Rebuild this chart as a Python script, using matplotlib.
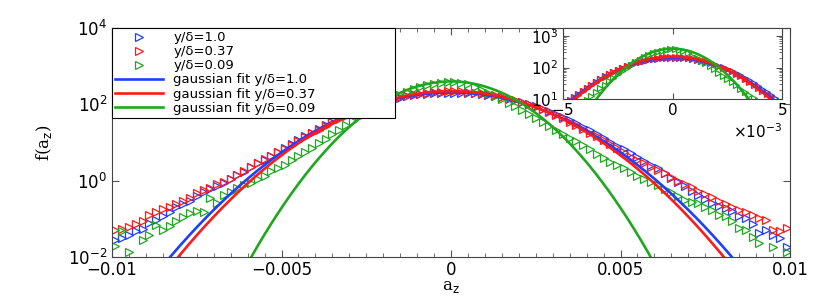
import numpy as np
import matplotlib
matplotlib.use("Agg")
import matplotlib.pyplot as plt
from matplotlib.ticker import MultipleLocator, NullLocator, FixedLocator, FixedFormatter, LogLocator

plt.rcParams["font.family"] = ["DejaVu Sans"]
plt.rcParams["mathtext.fontset"] = "dejavusans"

# bin centres of the pdf (units of a_z)
bins = np.round(np.arange(-9.9, 10.0, 0.2), 1) * 1e-3

# log10 f(a_z), one value per bin (nan = empty bin)
logf_10 = [
    -1.55, -1.50, -1.42, -1.33, -1.27, -1.12, -1.02, -0.93, -0.82, -0.70,
    -0.60, -0.52, -0.40, -0.30, -0.22, -0.13, -0.05, 0.04, 0.14, 0.24,
    0.35, 0.45, 0.55, 0.65, 0.75, 0.85, 0.96, 1.06, 1.16, 1.26,
    1.36, 1.46, 1.55, 1.64, 1.72, 1.80, 1.87, 1.93, 1.99, 2.04,
    2.09, 2.13, 2.17, 2.21, 2.24, 2.26, 2.28, 2.30, 2.31, 2.31,
    2.31, 2.31, 2.30, 2.29, 2.27, 2.25, 2.22, 2.19, 2.15, 2.11,
    2.06, 2.01, 1.95, 1.89, 1.82, 1.75, 1.67, 1.59, 1.50, 1.41,
    1.32, 1.22, 1.12, 1.02, 0.92, 0.82, 0.72, 0.62, 0.52, 0.42,
    0.32, 0.20, 0.08, -0.04, -0.15, -0.26, -0.38, -0.48, -0.58, -0.66,
    -0.72, -0.80, -0.92, -0.98, -1.13, -1.37, -1.30, -1.42, -1.50, -1.73,
]
logf_037 = [
    -1.29, -1.26, -1.22, -1.13, -1.05, -0.90, -0.82, -0.75, -0.68, -0.60,
    -0.53, -0.46, -0.32, -0.25, -0.19, -0.10, -0.03, 0.05, 0.15, 0.25,
    0.37, 0.47, 0.56, 0.65, 0.74, 0.84, 0.94, 1.04, 1.14, 1.24,
    1.34, 1.44, 1.53, 1.62, 1.70, 1.78, 1.86, 1.92, 1.98, 2.04,
    2.09, 2.14, 2.19, 2.22, 2.26, 2.28, 2.30, 2.32, 2.33, 2.34,
    2.34, 2.34, 2.33, 2.31, 2.29, 2.27, 2.24, 2.20, 2.16, 2.11,
    2.06, 2.00, 1.94, 1.88, 1.80, 1.73, 1.64, 1.55, 1.46, 1.36,
    1.26, 1.16, 1.06, 0.95, 0.85, 0.74, 0.63, 0.54, 0.46, 0.37,
    0.27, 0.20, 0.09, 0.00, -0.08, -0.16, -0.26, -0.36, -0.44, -0.53,
    -0.60, -0.68, -0.76, -0.83, -0.89, -0.97, -1.03, -1.30, -1.32, -1.24,
]
logf_009 = [
    -1.72, -1.33, -1.88, np.nan, -1.55, -1.42, -1.16, -1.28, -1.20, -1.05,
    -0.94, -0.85, -0.80, -0.83, -0.46, -0.59, -0.38, -0.30, -0.19, -0.12,
    -0.06, 0.05, 0.13, 0.25, 0.33, 0.42, 0.53, 0.64, 0.75, 0.86,
    0.98, 1.10, 1.22, 1.34, 1.45, 1.57, 1.68, 1.78, 1.88, 1.98,
    2.07, 2.16, 2.24, 2.32, 2.39, 2.45, 2.50, 2.54, 2.57, 2.59,
    2.59, 2.57, 2.52, 2.45, 2.38, 2.30, 2.22, 2.14, 2.04, 1.95,
    1.84, 1.74, 1.64, 1.53, 1.43, 1.33, 1.23, 1.13, 1.03, 0.93,
    0.82, 0.70, 0.60, 0.50, 0.40, 0.32, 0.22, 0.12, 0.04, -0.04,
    -0.12, -0.22, -0.29, -0.40, -0.50, -0.55, -0.58, -0.70, -0.78, -0.89,
    -0.93, -1.05, -1.24, -1.30, -1.47, -1.63, np.nan, -1.75, np.nan, -1.87,
]

labels = ["y/δ=1.0", "y/δ=0.37", "y/δ=0.09"]
colors = ["#1f3fff", "#ff1a1a", "#1fa81f"]
series = [logf_10, logf_037, logf_009]

# gaussian fit parameters (peak value, standard deviation)
fit_peak = [204.0, 219.0, 398.0]
fit_sigma = [0.00186, 0.00180, 0.00128]

x_ticks = [-0.01, -0.005, 0, 0.005, 0.01]
x_tick_labels = ["\u22120.01", "\u22120.005", "0", "0.005", "0.01"]

xfit = np.linspace(-0.01, 0.01, 801)


def draw(ax, ms, lw):
    handles = []
    for lab, c, s in zip(labels, colors, series):
        h, = ax.plot(bins, 10 ** np.array(s), ">", ms=ms, mfc="none", mec=c,
                     mew=0.9, color=c, label=lab)
        handles.append(h)
    for lab, c, a, sg in zip(labels, colors, fit_peak, fit_sigma):
        h, = ax.plot(xfit, a * np.exp(-xfit ** 2 / (2 * sg ** 2)), "-", color=c,
                     lw=lw, label="gaussian fit " + lab)
        handles.append(h)
    return handles


fig = plt.figure(figsize=(8.3, 3.0), dpi=100)
ax = fig.add_axes([112 / 830, 43 / 300, 678 / 830, 229 / 300])
handles = draw(ax, 5.5, 1.9)
ax.set_yscale("log")
ax.set_xlim(-0.01, 0.01)
ax.set_ylim(1e-2, 1e4)
ax.yaxis.set_major_locator(FixedLocator([1e-2, 1e0, 1e2, 1e4]))
ax.yaxis.set_minor_locator(NullLocator())
ax.xaxis.set_major_locator(FixedLocator(x_ticks))
ax.xaxis.set_major_formatter(FixedFormatter(x_tick_labels))
ax.xaxis.set_minor_locator(MultipleLocator(0.0005))
ax.tick_params(which="both", direction="in", top=True, right=True,
               labelsize=12, color="#555555")
ax.tick_params(which="major", length=5)
ax.tick_params(which="minor", length=3)
ax.tick_params(axis="x", pad=3)
for sp in ax.spines.values():
    sp.set_color("#444444")
ax.set_xlabel("a$_{\\rm z}$", family="serif", fontsize=12, labelpad=-1)
ax.set_ylabel("f(a$_{\\rm z}$)", family="serif", fontsize=12, labelpad=10)

leg = ax.legend(handles=handles, loc="upper left", bbox_to_anchor=(0, 1, 283 / 678, 0),
                mode="expand", borderaxespad=0, fontsize=9.5, numpoints=1,
                handlelength=3.6, handletextpad=0.8, labelspacing=0.08,
                borderpad=0.25, fancybox=False, framealpha=1)
leg.get_frame().set_edgecolor("black")
leg.get_frame().set_linewidth(0.8)

ins = fig.add_axes([563 / 830, 201 / 300, 219 / 830, 71 / 300])
draw(ins, 4.5, 1.9)
ins.set_yscale("log")
ins.set_xlim(-0.005, 0.005)
ins.set_ylim(10, 1800)
ins.set_xticks([-0.005, 0, 0.005])
ins.ticklabel_format(axis="x", style="sci", scilimits=(0, 0), useMathText=True)
ins.yaxis.set_major_locator(FixedLocator([1e1, 1e2, 1e3]))
ins.yaxis.set_minor_locator(LogLocator(subs=np.arange(2, 10)))
ins.yaxis.set_minor_formatter(plt.NullFormatter())
ins.tick_params(which="both", direction="in", top=True, right=True,
                labelsize=11, color="#555555")
ins.tick_params(which="major", length=4)
ins.tick_params(which="minor", length=2)
ins.tick_params(axis="x", pad=2)
ins.xaxis.get_offset_text().set_fontsize(11)
for sp in ins.spines.values():
    sp.set_color("#444444")

fig.savefig("out.png", dpi=100)
